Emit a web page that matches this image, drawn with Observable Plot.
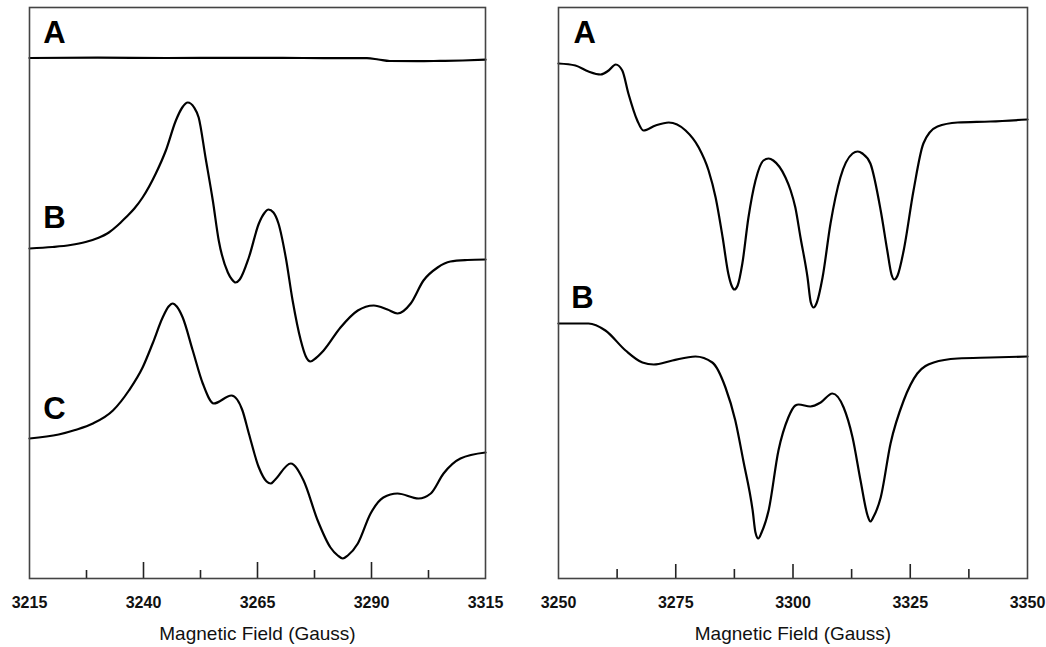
<!DOCTYPE html>
<html><head><meta charset="utf-8">
<script src="https://cdn.jsdelivr.net/npm/d3@7"></script>
<script src="https://cdn.jsdelivr.net/npm/@observablehq/plot@0.6"></script>
<style>
body{margin:0;background:#fff;}
#wrap{display:flex;width:1046px;height:647px;}
</style></head><body><div id="wrap"></div>
<script>
// ---------- Left panel (Magnetic Field, Gauss) ----------
const leftLabelTicks = [3215, 3240, 3265, 3290, 3315];
const leftMajorTicks = [3240, 3265, 3290];
const leftMinorTicks = [3227.5, 3252.5, 3277.5, 3302.5];

const leftA_field  = [3215, 3230, 3245, 3260, 3275, 3289, 3291.5, 3294, 3300, 3305, 3310, 3315];
const leftA_signal = [520.5, 520.8, 520.5, 520.7, 520.5, 520.3, 519, 517.5, 517.3, 517.6, 518, 518.8];

const leftB_field  = [3215, 3220, 3224, 3227.3, 3230, 3232.4, 3234.3, 3236.1, 3238, 3239.8, 3242.7, 3244.9, 3247.1, 3248.5, 3249.7, 3251.1, 3252.1, 3253.6, 3255.2, 3256.5, 3258.5, 3259.4, 3260.2, 3261.1, 3263.1, 3265.3, 3266.6, 3267.4, 3268.5, 3269.6, 3271.2, 3272.7, 3274.5, 3275.6, 3276.6, 3277.7, 3279.5, 3283.2, 3287.0, 3290.5, 3293.5, 3295.7, 3298.6, 3301.4, 3304.5, 3307.3, 3311, 3315];
const leftB_signal = [330, 331.5, 333.5, 336.5, 340.5, 346, 353, 361, 370, 381, 405, 428, 458, 471, 476, 471, 461, 421, 378, 338, 306, 299, 296, 299, 321, 355, 366, 369, 366, 355, 321, 278, 238, 222, 217, 220, 228, 251, 268, 273, 269, 265, 275, 298, 311, 317, 318.5, 319];

const leftC_field  = [3215, 3221.4, 3225, 3228.9, 3233.3, 3236.8, 3239.8, 3242.0, 3244.2, 3245.5, 3246.4, 3247.3, 3248.6, 3250.8, 3253.0, 3255.4, 3259.3, 3261.7, 3263.1, 3265.3, 3267.0, 3267.9, 3268.7, 3272.3, 3275.1, 3278.2, 3281.0, 3282.6, 3283.7, 3284.8, 3287.0, 3289.8, 3292.6, 3295.7, 3300.3, 3303.0, 3305.8, 3309.5, 3315];
const leftC_signal = [140, 144, 148.5, 155, 168, 188, 211, 235, 261, 272, 275, 272, 261, 228, 195, 175, 183, 168, 145, 111, 97, 95, 98, 115, 98, 58, 31, 23, 20, 23, 35, 65, 81, 85, 80, 85, 105, 120, 126];

// ---------- Right panel ----------
const rightLabelTicks = [3250, 3275, 3300, 3325, 3350];
const rightMajorTicks = [3275, 3300, 3325];
const rightMinorTicks = [3262.5, 3287.5, 3312.5, 3337.5];

const rightA_field  = [3250, 3253.6, 3256.4, 3259.0, 3260.7, 3262.2, 3263.6, 3264.9, 3266.8, 3268.1, 3270.7, 3273.5, 3277.1, 3279.9, 3282.0, 3283.5, 3285.0, 3286.2, 3286.9, 3287.5, 3288.2, 3289.2, 3290.5, 3292.0, 3293.7, 3294.8, 3295.8, 3298.4, 3299.5, 3300.5, 3301.6, 3303.1, 3303.8, 3304.4, 3305.0, 3306.3, 3308.0, 3310.1, 3312.7, 3313.8, 3314.8, 3316.5, 3318.7, 3320.1, 3321.0, 3321.6, 3322.3, 3323.6, 3325.7, 3327.8, 3330.8, 3335.1, 3342.1, 3350];
const rightA_signal = [515, 513, 507, 504, 508, 514, 508, 485, 458, 448, 453, 456, 448, 431, 408, 381, 341, 305, 293, 289, 293, 315, 361, 398, 418, 420, 418, 401, 388, 371, 341, 301, 276, 271, 275, 301, 355, 401, 425, 427, 425, 415, 368, 328, 304, 299, 303, 328, 388, 435, 452, 456, 457, 459];

const rightB_field  = [3250, 3256.4, 3260.0, 3264.3, 3267.9, 3270.3, 3274.3, 3279.2, 3282.8, 3285.6, 3287.7, 3289.4, 3291.4, 3292.0, 3292.6, 3293.3, 3294.8, 3296.9, 3299.0, 3300.5, 3301.2, 3303.7, 3305.9, 3308.4, 3310.8, 3312.7, 3314.4, 3315.9, 3316.5, 3317.2, 3318.7, 3320.8, 3323.6, 3326.5, 3330.0, 3335.1, 3342.1, 3350];
const rightB_signal = [255, 255, 248, 228, 216, 214, 218, 222, 216, 191, 158, 118, 68, 46, 40, 46, 68, 128, 161, 173, 174, 172, 176, 185, 171, 141, 98, 63, 57, 62, 81, 135, 178, 205, 216, 220, 221, 222];

// ---------- Trace letters ----------
const leftLetters  = ["A", "B", "C"];
const leftLetterField  = [3218, 3218, 3218];
const leftLetterSignal = [536, 351, 160];
const rightLetters = ["A", "B"];
const rightLetterField  = [3253.2, 3252.7];
const rightLetterSignal = [536, 271];

const axisTitle = "Magnetic Field (Gauss)";

function toRows(field, signal) { return field.map((f, i) => ({field: f, signal: signal[i]})); }
function toLetters(labels, field, signal) { return labels.map((l, i) => ({label: l, field: field[i], signal: signal[i]})); }

const FONT = "'Liberation Sans', Arial, sans-serif";

function panel(o) {
  return Plot.plot({
    width: o.width, height: 647,
    marginTop: 7, marginBottom: 69, marginLeft: o.marginLeft, marginRight: o.marginRight,
    style: {fontFamily: FONT, background: "white", color: "#111", overflow: "visible"},
    x: {domain: o.domain},
    y: {domain: [0, 571], axis: null},
    marks: [
      Plot.ruleX(o.major, {y1: 0, y2: o.majorLen, stroke: "#222", strokeWidth: 1.6}),
      Plot.ruleX(o.minor, {y1: 0, y2: o.minorLen, stroke: "#222", strokeWidth: 1.6}),
      Plot.axisX(o.labels, {tickSize: 0, tickPadding: 18, fontSize: 16, fontWeight: "bold", tickFormat: d => String(d), label: null}),
      Plot.text([axisTitle], {frameAnchor: "bottom", dy: 55, fontSize: 19, lineAnchor: "middle", fill: "#111"}),
      ...o.series.map(s => Plot.line(s, {x: "field", y: "signal", curve: "monotone-x", stroke: "#000", strokeWidth: 2.2})),
      Plot.text(o.letters, {x: "field", y: "signal", text: "label", textAnchor: "start", lineAnchor: "bottom", fontSize: 31, fontWeight: "bold", fill: "#000"}),
      Plot.frame({stroke: "#444", strokeWidth: 1.6})
    ]
  });
}

const wrap = document.getElementById("wrap");
wrap.append(panel({
  width: 521, marginLeft: 29, marginRight: 36, domain: [3215, 3315],
  labels: leftLabelTicks, major: leftMajorTicks, minor: leftMinorTicks, majorLen: 16, minorLen: 8,
  series: [toRows(leftA_field, leftA_signal), toRows(leftB_field, leftB_signal), toRows(leftC_field, leftC_signal)],
  letters: toLetters(leftLetters, leftLetterField, leftLetterSignal)
}));
wrap.append(panel({
  width: 525, marginLeft: 37, marginRight: 19, domain: [3250, 3350],
  labels: rightLabelTicks, major: rightMajorTicks, minor: rightMinorTicks, majorLen: 14, minorLen: 9,
  series: [toRows(rightA_field, rightA_signal), toRows(rightB_field, rightB_signal)],
  letters: toLetters(rightLetters, rightLetterField, rightLetterSignal)
}));
</script></body></html>
